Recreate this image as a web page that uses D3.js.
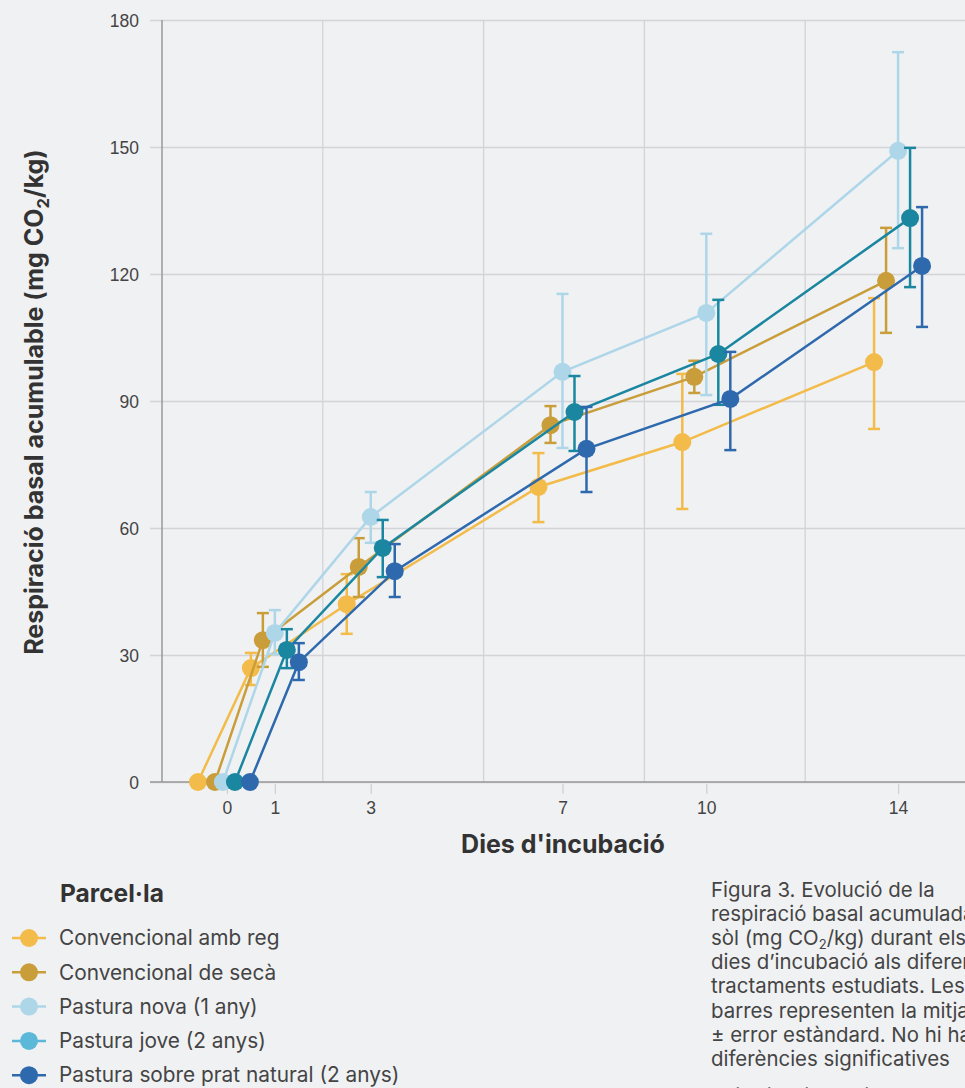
<!DOCTYPE html>
<html><head><meta charset="utf-8">
<script src="https://cdn.jsdelivr.net/npm/d3@7"></script>
<style>
html,body{margin:0;padding:0;background:#f0f1f3;overflow:hidden;}
svg{display:block;font-family:Inter,"Noto Sans",sans-serif;}
</style></head>
<body>
<svg id="chart" width="965" height="1088"></svg>
<script>
// ---- data ----
const days = [0, 1, 3, 7, 10, 14];
const tickDays = [0, 1, 3, 7, 10, 14];
const yTicks = [0, 30, 60, 90, 120, 150, 180];
const seriesNames = ["Convencional amb reg", "Convencional de secà", "Pastura nova (1 any)", "Pastura jove (2 anys)", "Pastura sobre prat natural (2 anys)"];
const convReg      = [0, 26.9, 42.0, 69.7, 80.3, 99.2];
const convRegLo    = [0, 22.9, 35.0, 61.4, 64.5, 83.4];
const convRegHi    = [0, 30.5, 49.1, 77.7, 96.4, 114.3];
const convSeca     = [0, 33.5, 50.8, 84.3, 95.7, 118.4];
const convSecaLo   = [0, 27.2, 43.7, 80.1, 91.9, 106.1];
const convSecaHi   = [0, 39.9, 57.6, 88.8, 99.5, 130.9];
const pastNova     = [0, 35.2, 62.6, 96.9, 110.8, 149.1];
const pastNovaLo   = [0, 30.2, 56.5, 78.9, 91.4, 126.1];
const pastNovaHi   = [0, 40.6, 68.5, 115.3, 129.5, 172.4];
const pastJove     = [0, 31.2, 55.3, 87.4, 101.1, 133.2];
const pastJoveLo   = [0, 26.9, 48.4, 78.2, 89.1, 116.9];
const pastJoveHi   = [0, 36.1, 61.9, 95.9, 113.9, 149.8];
const pastPrat     = [0, 28.3, 49.8, 78.7, 90.5, 121.9];
const pastPratLo   = [0, 24.1, 43.7, 68.5, 78.4, 107.5];
const pastPratHi   = [0, 32.8, 56.2, 88.6, 101.6, 135.8];

// ---- styles ----
const lineColors   = ["#f3bb4a", "#c99e3a", "#aed6e9", "#1a86a0", "#2e69ae"];
const legendColors = ["#f3bb4a", "#c99e3a", "#aed6e9", "#5bb8d9", "#2e69ae"];
const dodgePx = [-24, -12, 0, 12, 24];
const dodgeDay0 = [-29, -12, -4, 8, 23];

const means = [convReg, convSeca, pastNova, pastJove, pastPrat];
const los = [convRegLo, convSecaLo, pastNovaLo, pastJoveLo, pastPratLo];
const his = [convRegHi, convSecaHi, pastNovaHi, pastJoveHi, pastPratHi];
const series = seriesNames.map((name, i) => ({
  name, i,
  pts: days.map((d, j) => ({d, j, v: means[i][j], lo: los[i][j], hi: his[i][j]}))
}));

const svg = d3.select("#chart");
const xDomain = [-1.354, 15.417];
const x = d3.scaleLinear().domain(xDomain).range([162, 966]);
const y = d3.scaleLinear().domain([0, 180]).range([782, 20]);
const px = p => x(p.d) + (p.d === 0 ? dodgeDay0 : dodgePx)[p.s];

// grid
const gridX = d3.range(6).map(k => xDomain[0] + k * (xDomain[1] - xDomain[0]) / 5);
svg.append("g").selectAll("line").data(gridX.slice(1)).join("line")
  .attr("x1", d => x(d)).attr("x2", d => x(d)).attr("y1", y(180)).attr("y2", y(0))
  .attr("stroke", "#d3d4d7").attr("stroke-width", 1.3);

// y axis with gridlines
const yAxis = svg.append("g").attr("transform", "translate(150,0)")
  .call(d3.axisRight(y).tickValues(yTicks).tickSize(815).tickFormat(d3.format("d")));
yAxis.select(".domain").remove();
yAxis.selectAll(".tick line").attr("stroke", "#d3d4d7").attr("stroke-width", 1.3);
yAxis.selectAll(".tick text").attr("x", -11).attr("text-anchor", "end")
  .attr("font-size", 17.5).attr("fill", "#444").attr("dy", "0.35em");
svg.append("line").attr("x1", 162).attr("x2", 162).attr("y1", y(180)).attr("y2", y(0))
  .attr("stroke", "#999").attr("stroke-width", 1.5);

// x axis
const xAxis = svg.append("g").attr("transform", "translate(0,784)")
  .call(d3.axisBottom(x).tickValues(tickDays).tickSize(10).tickPadding(8).tickFormat(d3.format("d")));
xAxis.select(".domain").remove();
xAxis.selectAll(".tick line").attr("stroke", "#d0d1d4").attr("stroke-width", 1.3);
xAxis.selectAll(".tick text").attr("font-size", 17.5).attr("fill", "#444");
svg.append("line").attr("x1", 150).attr("x2", 965).attr("y1", y(0)).attr("y2", y(0))
  .attr("stroke", "#999").attr("stroke-width", 1.5);

// series
const gS = svg.append("g");
series.forEach(s => {
  const pts = s.pts.map(p => Object.assign({s: s.i}, p));
  const g = gS.append("g");
  g.append("path").datum(pts)
    .attr("d", d3.line().x(px).y(p => y(p.v)))
    .attr("fill", "none").attr("stroke", lineColors[s.i]).attr("stroke-width", 2.5);
  const eb = pts.filter(p => p.d !== 0);
  g.selectAll(".eb").data(eb).join("line")
    .attr("x1", px).attr("x2", px).attr("y1", p => y(p.lo)).attr("y2", p => y(p.hi))
    .attr("stroke", lineColors[s.i]).attr("stroke-width", 2.5);
  ["lo", "hi"].forEach(k => {
    g.selectAll(".cap" + k).data(eb).join("line")
      .attr("x1", p => px(p) - 6).attr("x2", p => px(p) + 6)
      .attr("y1", p => y(p[k])).attr("y2", p => y(p[k]))
      .attr("stroke", lineColors[s.i]).attr("stroke-width", 2.5);
  });
  g.selectAll("circle").data(pts).join("circle")
    .attr("cx", px).attr("cy", p => y(p.v)).attr("r", 9)
    .attr("fill", lineColors[s.i]);
});

// axis titles
svg.append("text").attr("transform", "translate(43,402) rotate(-90)")
  .attr("text-anchor", "middle").attr("font-size", 25).attr("font-weight", 700).attr("fill", "#333")
  .call(t => {
    t.append("tspan").text("Respiració basal acumulable (mg CO");
    t.append("tspan").attr("font-size", 16.5).attr("dy", 6).text("2");
    t.append("tspan").attr("dy", -6).text("/kg)");
  });
svg.append("text").attr("x", 563).attr("y", 853).attr("text-anchor", "middle")
  .attr("font-size", 25).attr("font-weight", 700).attr("fill", "#333").text("Dies d'incubació");

// legend
svg.append("text").attr("x", 60).attr("y", 902).attr("font-size", 24.5).attr("font-weight", 700)
  .attr("fill", "#333").text("Parcel·la");
const lg = svg.append("g").selectAll("g").data(seriesNames).join("g")
  .attr("transform", (d, i) => `translate(0,${938 + i * 34.3})`);
lg.append("line").attr("x1", 12).attr("x2", 46).attr("stroke", (d, i) => legendColors[i]).attr("stroke-width", 2.5);
lg.append("circle").attr("cx", 29).attr("r", 9).attr("fill", (d, i) => legendColors[i]);
lg.append("text").attr("x", 59).attr("dy", "0.35em").attr("font-size", 20.8).attr("fill", "#444").text(d => d);

// caption
const caption = [
  ["Figura 3. Evolució de la"],
  ["respiració basal acumulada del"],
  ["sòl (mg CO", "2", "/kg) durant els"],
  ["dies d’incubació als diferents"],
  ["tractaments estudiats. Les"],
  ["barres representen la mitjana"],
  ["± error estàndard. No hi ha"],
  ["diferències significatives"],
  ["entre tractaments."]
];
const cap = svg.append("text").attr("font-size", 20.4).attr("fill", "#444");
caption.forEach((parts, i) => {
  cap.append("tspan").attr("x", 711).attr("y", 897 + i * 24.1 + (i === 8 ? 12 : 0)).text(parts[0]);
  if (parts.length > 1) {
    cap.append("tspan").attr("font-size", 13).attr("dy", 4).text(parts[1]);
    cap.append("tspan").attr("dy", -4).text(parts[2]);
  }
});
</script>
</body></html>
